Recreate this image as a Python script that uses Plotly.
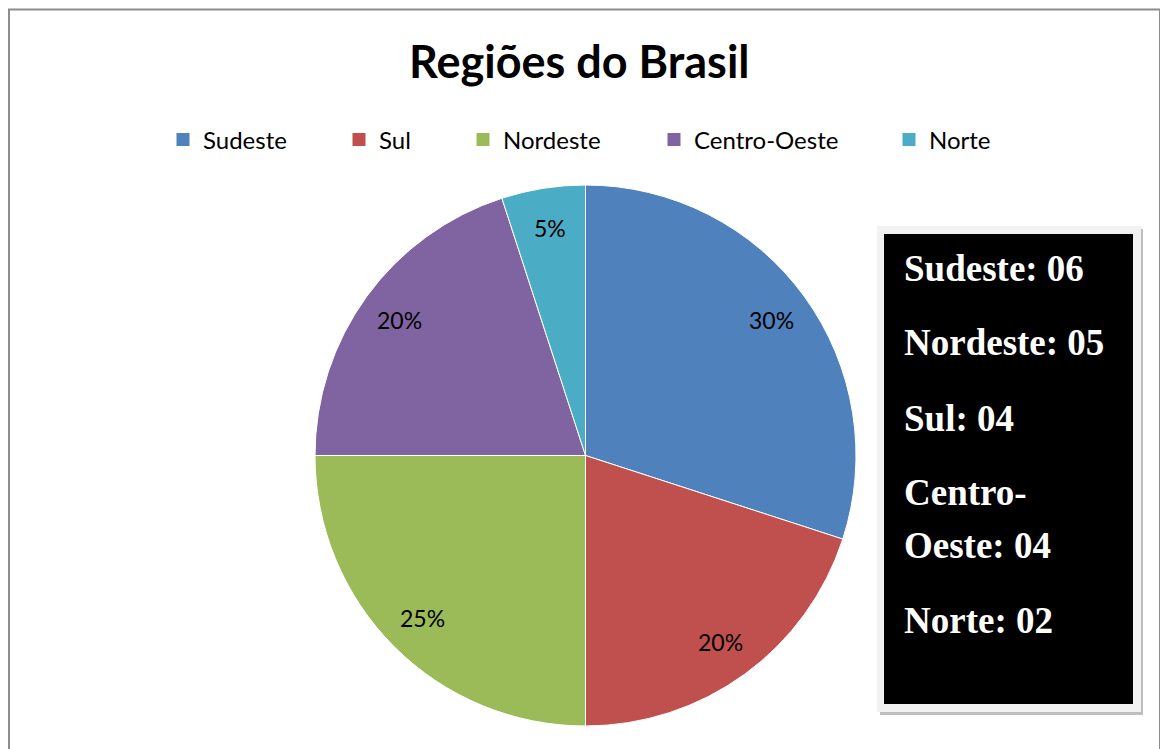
import math
import plotly.graph_objects as go

# page offset (browser body margin) and figure size
OFF = 8
W, H = 1168 - OFF, 749 - OFF

regions = ["Sudeste", "Sul", "Nordeste", "Centro-Oeste", "Norte"]
shares = [30, 20, 25, 20, 5]
colors = ["#4F81BD", "#C0504D", "#9BBB59", "#8064A2", "#4BACC6"]
title_text = "Regiões do Brasil"
box_lines = ["Sudeste: 06", "Nordeste: 05", "Sul: 04", "Centro-", "Oeste: 04", "Norte: 02"]
box_line_y = [268, 343, 418, 493, 545, 620]
legend_widths = [131, 79, 146, 190, 70]


def px(x):
    return (x - OFF) / W


def py(y):
    return 1 - (y - OFF) / H


# pie geometry (page pixels)
CX, CY, R = 585.5, 455.5, 270.5
LABEL_FRAC = 0.85

fig = go.Figure()

fig.add_trace(go.Pie(
    labels=regions,
    values=shares,
    sort=False,
    direction="clockwise",
    rotation=0,
    marker=dict(colors=colors, line=dict(color="white", width=1)),
    textinfo="none",
    domain=dict(x=[px(CX - R), px(CX + R)], y=[py(CY + R), py(CY - R)]),
    showlegend=False,
    hoverinfo="label+percent",
))

for name, col, lw in zip(regions, colors, legend_widths):
    fig.add_trace(go.Scatter(
        x=[None], y=[None], mode="markers", name=name,
        marker=dict(symbol="square", size=13, color=col),
        legendwidth=lw, showlegend=True,
    ))

shapes = [
    dict(type="rect", xref="paper", yref="paper", x0=px(9), x1=px(1160), y0=py(770), y1=py(9.5),
         line=dict(color="#8C8C8C", width=2), fillcolor="rgba(0,0,0,0)", layer="above"),
    dict(type="rect", xref="paper", yref="paper", x0=px(880), x1=px(1143), y0=py(715), y1=py(229),
         line=dict(width=0), fillcolor="#BFBFBF", layer="above"),
    dict(type="rect", xref="paper", yref="paper", x0=px(877), x1=px(1141), y0=py(712), y1=py(226),
         line=dict(width=0), fillcolor="#F2F2F2", layer="above"),
    dict(type="rect", xref="paper", yref="paper", x0=px(884), x1=px(1133), y0=py(704), y1=py(234),
         line=dict(width=0), fillcolor="black", layer="above"),
]

annotations = [
    dict(text="<b>" + title_text + "</b>", x=px(579.5), y=py(61), xref="paper", yref="paper",
         xanchor="center", yanchor="middle", showarrow=False,
         font=dict(family="Lato", size=45, color="black")),
]

# percentage labels placed at each slice's mid-angle
total = sum(shares)
cum = 0
for v in shares:
    mid = (cum + v / 2) / total * 2 * math.pi
    cum += v
    lx = CX + LABEL_FRAC * R * math.sin(mid)
    ly = CY - LABEL_FRAC * R * math.cos(mid)
    annotations.append(dict(
        text=f"{round(v / total * 100)}%", x=px(lx), y=py(ly), xref="paper", yref="paper",
        xanchor="center", yanchor="middle", showarrow=False,
        font=dict(family="Lato", size=23, color="black")))

for line, yc in zip(box_lines, box_line_y):
    annotations.append(dict(
        text="<b>" + line + "</b>", x=px(902), y=py(yc), xref="paper", yref="paper",
        xanchor="left", yanchor="middle", showarrow=False,
        font=dict(family="Liberation Serif", size=37, color="white")))

fig.update_layout(
    width=W, height=H,
    margin=dict(l=0, r=0, t=0, b=0),
    paper_bgcolor="white", plot_bgcolor="white",
    xaxis=dict(visible=False), yaxis=dict(visible=False),
    legend=dict(orientation="h", x=px(163), xanchor="left", y=py(140), yanchor="middle",
                font=dict(family="Lato", size=24, color="black"), bgcolor="rgba(0,0,0,0)",
                itemclick=False),
    shapes=shapes,
    annotations=annotations,
)

fig.write_html("out.html")
